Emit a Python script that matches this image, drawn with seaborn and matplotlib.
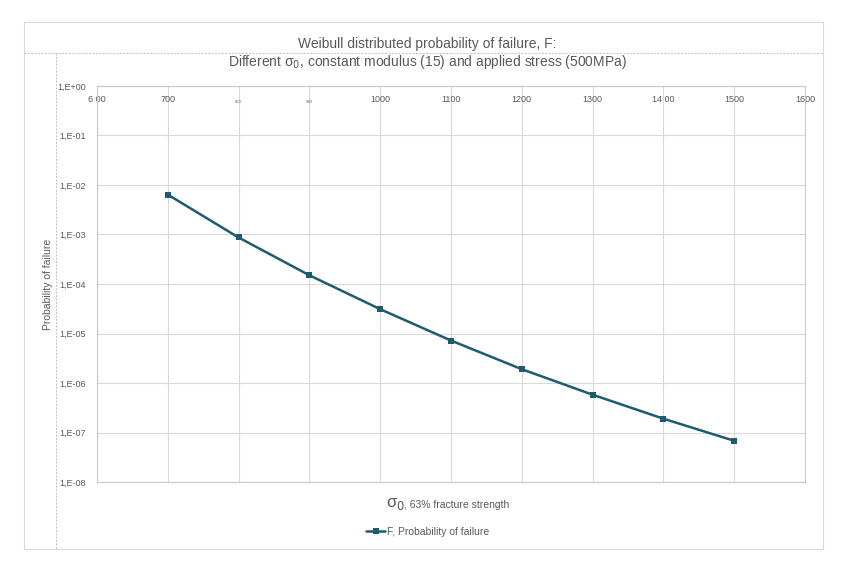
import matplotlib
matplotlib.use("Agg")
import matplotlib.pyplot as plt
import matplotlib.ticker as mticker
from matplotlib.lines import Line2D
from matplotlib.patches import Rectangle
import seaborn as sns
import pandas as pd

# data
sigma0 = [700, 800, 900, 1000, 1100, 1200, 1300, 1400, 1500]
prob_failure = [6.4e-3, 8.7e-4, 1.5e-4, 3.1e-5, 7.2e-6, 1.9e-6, 5.8e-7, 1.9e-7, 6.8e-8]
x_ticks = [600, 700, 800, 900, 1000, 1100, 1200, 1300, 1400, 1500, 1600]
x_ticklabels = ["6 00", "700", "800", "900", "1000", "1100", "1200", "1300", "14 00", "1500", "1600"]
y_ticks = [1e0, 1e-1, 1e-2, 1e-3, 1e-4, 1e-5, 1e-6, 1e-7, 1e-8]
y_ticklabels = ["1,E+00", "1,E-01", "1,E-02", "1,E-03", "1,E-04", "1,E-05", "1,E-06", "1,E-07", "1,E-08"]

df = pd.DataFrame({"sigma0": sigma0, "F": prob_failure})

sns.set_style("white")
plt.rcParams["font.family"] = ["Liberation Sans", "DejaVu Sans"]

line_color = "#1f5b6f"
text_color = "#595959"
grid_color = "#d9d9d9"

fig = plt.figure(figsize=(8.55, 5.70), dpi=100)
ax = fig.add_axes([97 / 855, 1 - 482 / 570, (805 - 97) / 855, (482 - 86) / 570])

sns.lineplot(data=df, x="sigma0", y="F", ax=ax, color=line_color, linewidth=1.8,
             marker="s", markersize=4.5, markeredgewidth=0)

ax.set_yscale("log")
ax.set_xlim(600, 1600)
ax.set_ylim(1e-8, 1e0)
ax.set_yticks(y_ticks)
ax.yaxis.set_major_formatter(mticker.FixedFormatter(y_ticklabels))
ax.yaxis.set_minor_locator(mticker.NullLocator())
ax.set_xticks(x_ticks)
ax.set_xticklabels(x_ticklabels)

ax.tick_params(axis="x", bottom=False, labelbottom=False, top=False, labeltop=True,
               pad=-13, labelsize=6.5, colors=text_color, length=0)
ax.tick_params(axis="y", labelsize=6.5, colors=text_color, length=0, pad=8)
# the 800 and 900 labels are squashed to tiny glyphs in the original
for lbl in ax.get_xticklabels(which="major")[2:4]:
    lbl.set_fontsize(3)
ax.grid(True, color=grid_color, linewidth=0.8)
for sp in ax.spines.values():
    sp.set_color("#c8c8c8")
    sp.set_linewidth(0.8)

ax.set_xlabel("")
ax.set_ylabel("Probability of failure", fontsize=7.5, color=text_color, labelpad=3)

# titles
fig.text(0.5, 1 - 44 / 570, "Weibull distributed probability of failure, F:",
         ha="center", va="center", fontsize=10, color=text_color)
fig.text(0.5, 1 - 62 / 570, "Different σ$_0$, constant modulus (15) and applied stress (500MPa)",
         ha="center", va="center", fontsize=10, color=text_color)

# x axis title
fig.text(386 / 855, 1 - 504 / 570, "σ$_0$", ha="left", va="center", fontsize=12, color=text_color)
fig.text(404 / 855, 1 - 505 / 570, ", 63% fracture strength", ha="left", va="center",
         fontsize=7.5, color=text_color)

# frame and dashed separators
fig.patches.append(Rectangle((24 / 855, 1 - 549 / 570), (823 - 24) / 855, (549 - 22) / 570,
                             transform=fig.transFigure, fill=False, edgecolor="#d9d9d9", linewidth=0.8))
fig.lines.append(Line2D([24 / 855, 823 / 855], [1 - 53 / 570, 1 - 53 / 570], transform=fig.transFigure,
                        color="#bfbfbf", linestyle=(0, (2, 1.5)), linewidth=0.7))
fig.lines.append(Line2D([56 / 855, 56 / 855], [1 - 53 / 570, 1 - 549 / 570], transform=fig.transFigure,
                        color="#bfbfbf", linestyle=(0, (2, 1.5)), linewidth=0.7))

# legend
handle = Line2D([], [], color=line_color, linewidth=1.8, marker="s", markersize=4.5, markeredgewidth=0)
fig.legend([handle], ["F, Probability of failure"], loc="center", bbox_to_anchor=(428 / 855, 1 - 532 / 570),
           frameon=False, fontsize=7.5, labelcolor=text_color, handlelength=1.8, handletextpad=0.2)

fig.savefig("out.png", dpi=100)
